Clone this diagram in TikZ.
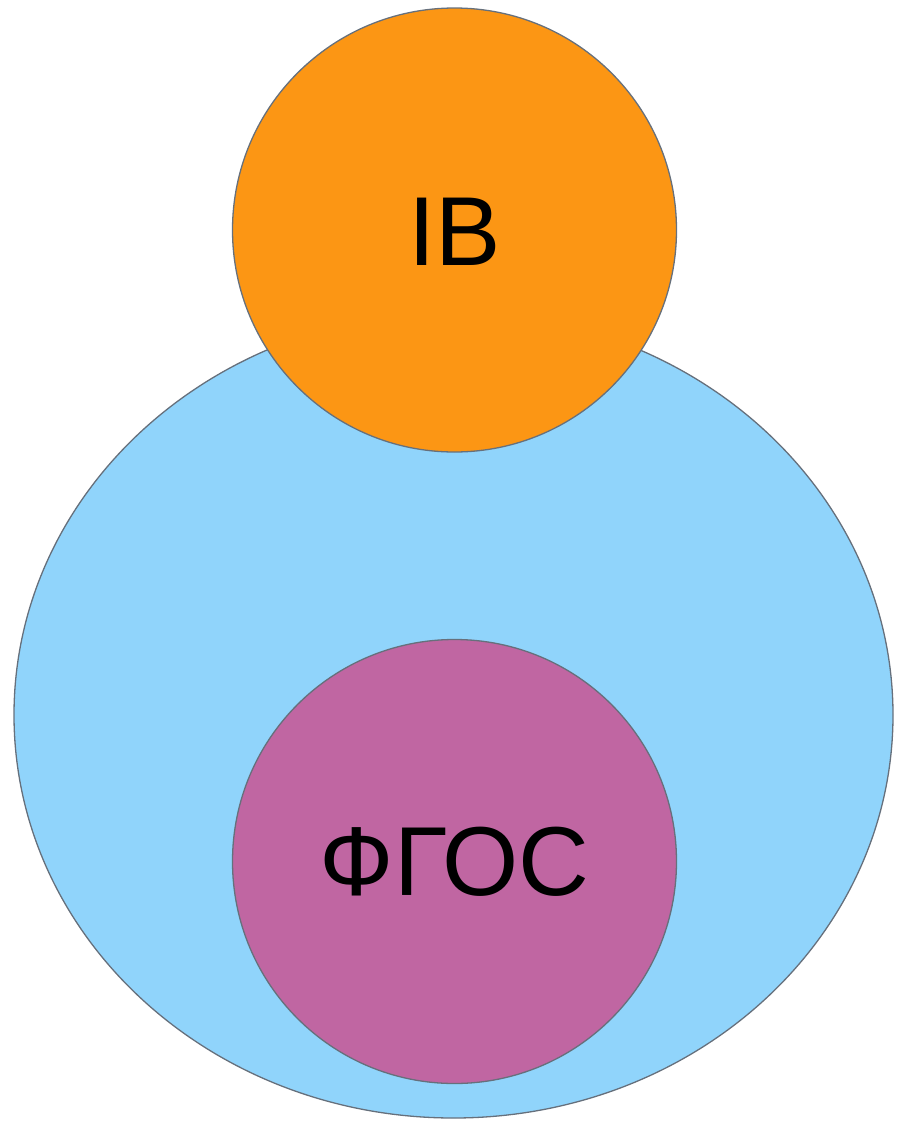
\documentclass[tikz,border=0pt]{standalone}
\usepackage{fontspec}
\setmainfont{Liberation Sans}
\begin{document}
\begin{tikzpicture}[x=1pt,y=-1pt,
  bubble/.style={draw=outl,line width=1.3pt},
  lbl/.style={font=\fontsize{98}{112}\selectfont,text=black}]
\definecolor{outl}{HTML}{66707C}
\definecolor{bluef}{HTML}{90D4FB}
\definecolor{orangef}{HTML}{FC9614}
\definecolor{purplef}{HTML}{C066A2}
\useasboundingbox (0,0) rectangle (903,1122);
\draw[bubble,fill=bluef] (453.5,715) ellipse [x radius=439.5, y radius=403];
\draw[bubble,fill=orangef] (454.5,230) circle [radius=222];
\draw[bubble,fill=purplef] (454.5,861.5) circle [radius=222];
\node[lbl] (ib) at (454.5,232) {IB};
\node[lbl] (fgos) at (454.5,862) {ФГОС};
\end{tikzpicture}
\end{document}
